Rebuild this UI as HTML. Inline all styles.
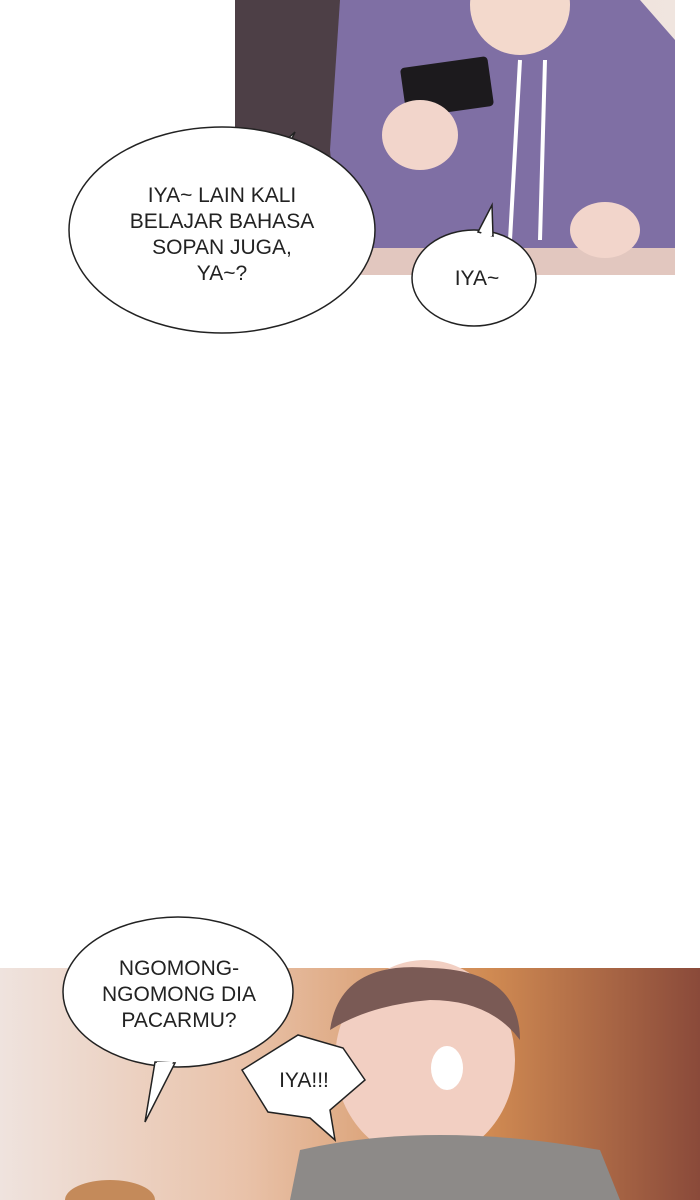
<!DOCTYPE html>
<html><head><style>
body{margin:0;width:700px;height:1200px;background:#fff;position:relative;overflow:hidden;font-family:"Liberation Sans",sans-serif}
</style></head><body>
<svg width="700" height="1200" style="position:absolute;left:0;top:0">
<defs>
<linearGradient id="bg2" x1="0" y1="0" x2="1" y2="0">
<stop offset="0" stop-color="#efe3de"/><stop offset="0.35" stop-color="#e9c2a9"/><stop offset="0.7" stop-color="#d08a52"/><stop offset="1" stop-color="#8a4a3a"/>
</linearGradient>
<linearGradient id="bg1" x1="0" y1="0" x2="1" y2="0">
<stop offset="0" stop-color="#5e5058"/><stop offset="0.25" stop-color="#e9ddd6"/><stop offset="1" stop-color="#f0e5df"/>
</linearGradient>
</defs>
<!-- top panel -->
<rect x="235" y="0" width="440" height="275" fill="url(#bg1)"/>
<rect x="235" y="0" width="110" height="275" fill="#4d3f46"/>
<rect x="235" y="248" width="440" height="27" fill="#e2c7bf"/>
<path d="M340 0 L640 0 L675 40 L675 248 L340 248 L330 150 Z" fill="#7f6fa4"/>
<circle cx="520" cy="5" r="50" fill="#f3d9cc"/>
<rect x="403" y="62" width="88" height="50" rx="4" fill="#1c1a1d" transform="rotate(-8 447 87)"/>
<ellipse cx="420" cy="135" rx="38" ry="35" fill="#f2d5cb"/>
<ellipse cx="605" cy="230" rx="35" ry="28" fill="#f2d5cb"/>
<path d="M520 60 L510 240 M545 60 L540 240" stroke="#fff" stroke-width="4" fill="none"/>
<!-- bottom panel -->
<rect x="0" y="968" width="700" height="232" fill="url(#bg2)"/>
<ellipse cx="425" cy="1060" rx="90" ry="100" fill="#f2cfc2"/>
<path d="M330 1030 Q340 960 430 968 Q520 970 520 1040 Q490 1000 430 1000 Q370 1005 330 1030Z" fill="#7a5a55"/>
<path d="M300 1150 Q430 1120 600 1150 L620 1200 L290 1200Z" fill="#8d8a88"/>
<ellipse cx="447" cy="1068" rx="16" ry="22" fill="#fff"/>
<ellipse cx="110" cy="1200" rx="45" ry="20" fill="#c48a5a"/>
<!-- bubbles -->
<g fill="#fff" stroke="#222" stroke-width="1.5">
<path d="M270 155 L295 132 L282 160Z"/>
<ellipse cx="222" cy="230" rx="153" ry="103"/>
<ellipse cx="474" cy="278" rx="62" ry="48"/>
<path d="M478 232 L492 205 L493 236Z"/>
<ellipse cx="178" cy="992" rx="115" ry="75"/>
<path d="M155 1062 L145 1122 L175 1063Z"/>
<path d="M242 1070 L298 1035 L343 1048 L365 1080 L330 1110 L335 1140 L310 1118 L268 1112 Z"/>
</g>
<g fill="#fff" stroke="none">
<path d="M271 160 L285 160 L290 140Z"/>
<path d="M480 236 L492 236 L491 210Z"/>
<path d="M157 1062 L173 1062 L147 1115Z"/>
</g>
<g font-size="21" fill="#222" text-anchor="middle">
<text x="222" y="202">IYA~ LAIN KALI</text>
<text x="222" y="228">BELAJAR BAHASA</text>
<text x="222" y="254">SOPAN JUGA,</text>
<text x="222" y="280">YA~?</text>
<text x="477" y="285">IYA~</text>
<text x="179" y="975">NGOMONG-</text>
<text x="179" y="1001">NGOMONG DIA</text>
<text x="179" y="1027">PACARMU?</text>
<text x="304" y="1087">IYA!!!</text>
</g>
</svg>
</body></html>
